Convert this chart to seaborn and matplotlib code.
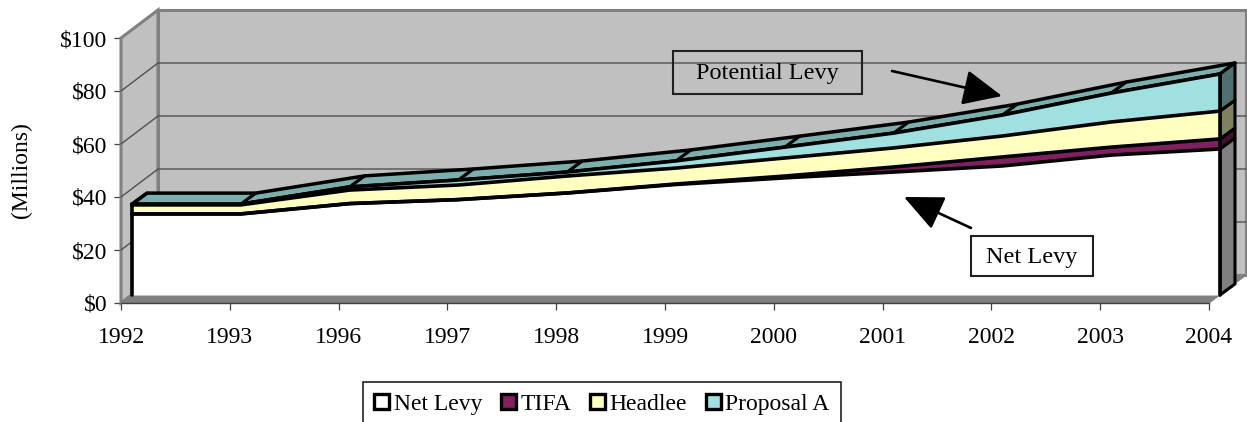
import numpy as np
import pandas as pd
import matplotlib
matplotlib.use('Agg')
import matplotlib.pyplot as plt
import seaborn as sns
from matplotlib.patches import Patch, Rectangle
from matplotlib.transforms import Affine2D, IdentityTransform

# values, $ millions
years = ['1992', '1993', '1996', '1997', '1998', '1999', '2000', '2001', '2002', '2003', '2004']
net_levy = [30.6, 30.6, 34.5, 36.0, 38.5, 41.7, 44.2, 46.4, 48.7, 52.8, 55.1]
tifa = [0.0, 0.0, 0.0, 0.0, 0.0, 0.2, 0.7, 1.9, 3.4, 3.0, 3.8]
headlee = [3.4, 3.4, 5.1, 5.5, 6.4, 6.0, 6.8, 7.2, 7.9, 9.5, 10.5]
proposal_a = [0.3, 0.3, 1.2, 1.9, 1.5, 2.7, 4.1, 5.6, 7.9, 10.9, 14.0]

series_names = ['Net Levy', 'TIFA', 'Headlee', 'Proposal A']
face_colors = ['#FFFFFF', '#802060', '#FFFFC0', '#A0E0E0']
side_colors = ['#808080', '#401030', '#808060', '#507070']
top_color = '#7CAEAE'
y_ticks = [0, 20, 40, 60, 80, 100]
y_labels = ['$0', '$20', '$40', '$60', '$80', '$100']

W, H = 1247, 422
sns.set_theme(style='white')
plt.rcParams['font.family'] = ['Liberation Serif', 'DejaVu Serif']
plt.rcParams['text.parse_math'] = False

fig = plt.figure(figsize=(W / 100, H / 100), dpi=100)
ax = fig.add_axes([121 / W, 1 - 303 / H, (1209 - 121) / W, (303 - 38) / H])
ax.patch.set_alpha(0)

pos = np.arange(len(years))
cum = np.cumsum([net_levy, tifa, headlee, proposal_a], axis=0)
x_end = pos[-1]
y_end = y_ticks[-1]
ax.set_xlim(0, x_end)
ax.set_ylim(0, y_end)
ax.autoscale(False)


# depth of the fake 3d box, in pixels
def shifted(dx, dy):
    return ax.transData + Affine2D().translate(dx, dy)


front_tf = shifted(11, 8)
rear_tf = shifted(26, 19)
wall = shifted(37, 28)
base = ax.transData
px = IdentityTransform()


def to_px(tf, x, y):
    return tf.transform(np.column_stack([x, y]))


def poly(points, **kw):
    ax.fill(points[:, 0], points[:, 1], transform=px, clip_on=False, **kw)


# walls and floor
poly(np.vstack([to_px(base, [0, 0], [0, y_end]), to_px(wall, [0, 0], [y_end, 0])]),
     facecolor='#C0C0C0', edgecolor='#808080', lw=2.2, zorder=1)
poly(to_px(wall, [0, 0, x_end, x_end], [0, y_end, y_end, 0]),
     facecolor='#C0C0C0', edgecolor='#808080', lw=2.2, zorder=1)
poly(np.vstack([to_px(base, [0, x_end], [0, 0]), to_px(wall, [x_end, 0], [0, 0])]),
     facecolor='#808080', edgecolor='#808080', lw=1, zorder=2)

for t in y_ticks[1:-1]:
    a = to_px(base, [0], [t])[0]
    b = to_px(wall, [0, x_end], [t, t])
    ax.plot([a[0], b[0, 0], b[1, 0]], [a[1], b[0, 1], b[1, 1]], transform=px,
            color='#505050', lw=1.0, zorder=1.5, clip_on=False)

# top surface of the stack
top = cum[-1]
poly(np.vstack([to_px(front_tf, pos, top), to_px(rear_tf, pos[::-1], top[::-1])]),
     facecolor=top_color, edgecolor='black', lw=2.5, zorder=3, joinstyle='round')
for i in pos:
    a = to_px(front_tf, [i], [top[i]])[0]
    b = to_px(rear_tf, [i], [top[i]])[0]
    ax.plot([a[0], b[0]], [a[1], b[1]], transform=px, color='black', lw=2.3,
            zorder=3.1, clip_on=False)

# right hand end of the stack
lows = [0] + list(cum[:-1, -1])
for low, high, c in zip(lows, cum[:, -1], side_colors):
    poly(np.vstack([to_px(front_tf, [x_end, x_end], [low, high]),
                    to_px(rear_tf, [x_end, x_end], [high, low])]),
         facecolor=c, edgecolor='black', lw=2.2, zorder=3.5, joinstyle='round')

# front faces
prev = np.zeros(len(pos))
for row, c in zip(cum, face_colors):
    ax.fill_between(pos, prev, row, color=c, lw=0, transform=front_tf, zorder=4, clip_on=False)
    prev = row

long_df = pd.DataFrame({
    'pos': np.tile(pos, len(series_names)),
    'top': cum.ravel(),
    'series': np.repeat(series_names, len(pos)),
})
sns.lineplot(data=long_df, x='pos', y='top', hue='series', hue_order=series_names,
             palette=['black'] * 4, estimator=None, legend=False, lw=2.6, ax=ax,
             transform=front_tf, zorder=5, clip_on=False)
ax.plot([0, 0], [0, cum[-1, 0]], color='black', lw=2.6, transform=front_tf, zorder=5, clip_on=False)
ax.plot([x_end, x_end], [0, cum[-1, -1]], color='black', lw=2.6, transform=front_tf, zorder=5, clip_on=False)

ax.set_xlim(0, x_end)
ax.set_ylim(0, y_end)
ax.set_xticks(pos, years)
ax.set_yticks(y_ticks, y_labels)
ax.tick_params(axis='y', length=5, width=0.9, color='#404040', labelsize=17, labelcolor='black', pad=5, left=True)
ax.tick_params(axis='x', length=5, width=0.9, color='#404040', labelsize=17, labelcolor='black', pad=12, bottom=True)
ax.set_xlabel('')
ax.set_ylabel('')
sns.despine(ax=ax, left=True, bottom=True, right=True, top=True)
ax.axhline(0, color='#404040', lw=1, zorder=2.5, clip_on=False)

fig.text(21 / W, 1 - 170 / H, '(Millions)', rotation=90, ha='center', va='center', fontsize=17, color='black')


# callouts, placed in picture pixels
def fx(x, y):
    return x / W, 1 - y / H


def callout(x0, y0, x1, y1, label, face):
    fig.add_artist(Rectangle(fx(x0, y1), (x1 - x0) / W, (y1 - y0) / H, transform=fig.transFigure,
                             facecolor=face, edgecolor='#202020', lw=1.5, zorder=8))
    tx, ty = fx((x0 + x1) / 2, (y0 + y1) / 2 + 1)
    fig.text(tx, ty, label, ha='center', va='center', fontsize=17.5, color='black', zorder=9)


def arrow(x0, y0, x1, y1):
    ax.annotate('', xy=fx(x1, y1), xytext=fx(x0, y0), xycoords='figure fraction',
                textcoords='figure fraction', zorder=7, annotation_clip=False,
                arrowprops=dict(arrowstyle='-|>,head_length=1.1,head_width=0.5', mutation_scale=22,
                                lw=1.9, color='black', shrinkA=0, shrinkB=0))


callout(673, 51, 862, 94, 'Potential Levy', 'none')
callout(971, 236, 1093, 276, 'Net Levy', 'white')
arrow(892, 71, 1002, 96)
arrow(971, 228, 904, 197)

# legend, its lower edge runs off the picture
handles = [Patch(facecolor=c, edgecolor='black', lw=2.4) for c in face_colors]
leg = fig.legend(handles, series_names, ncol=4, loc='upper center', bbox_to_anchor=(602 / W, 1 - 382 / H),
                 fontsize=17, frameon=True, fancybox=False, edgecolor='#202020', framealpha=1,
                 borderaxespad=0, borderpad=0.5, handlelength=0.62, handleheight=0.62,
                 handletextpad=0.2, columnspacing=0.8, labelcolor='black')
leg.get_frame().set_linewidth(1.2)

fig.savefig('out.png', dpi=100)
